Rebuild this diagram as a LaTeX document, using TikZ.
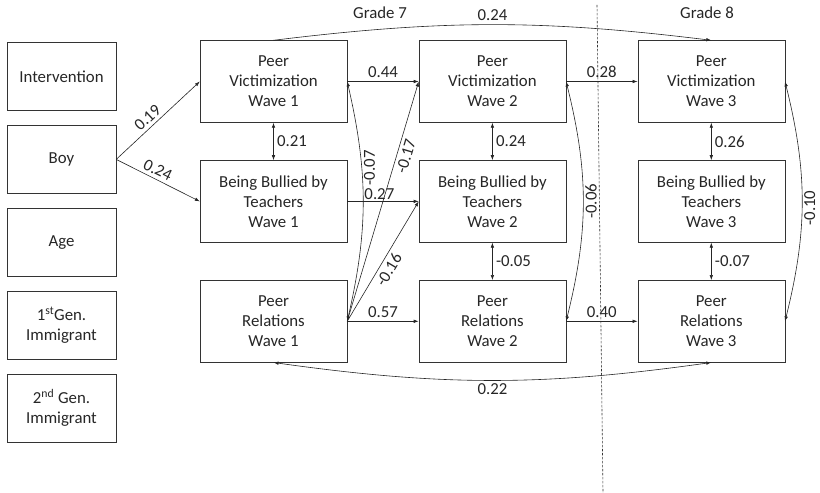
\documentclass[tikz,border=0pt]{standalone}
\usepackage{fontspec}
\setmainfont{Carlito}
\usetikzlibrary{shapes,arrows.meta}
\usetikzlibrary{positioning}

\begin{document}
\begin{tikzpicture}[x=1pt,y=1pt,
font=\fontsize{16.8}{20}\selectfont,text=black!85,
block/.style={rectangle,draw=black!80,align=center,minimum width=147pt,minimum height=82pt,inner sep=0pt,node distance=37.5pt and 71.5pt},
cvar/.style={rectangle,draw=black!80,align=center,minimum width=109pt,minimum height=68pt,inner sep=0pt,node distance=14.5pt},
line/.style={draw=black!85,line width=0.6pt,-{Latex[length=5pt,width=3.5pt]}},
both/.style={draw=black!85,line width=0.6pt,{Latex[length=5pt,width=3.5pt]}-{Latex[length=5pt,width=3.5pt]}},
vlabel/.style={rotate=90,anchor=north,inner sep=2pt}]

\useasboundingbox (0,0) rectangle (820,493);

% covariates
\node [cvar] (int) at (61.5,416.5) {Intervention};
\node [cvar, below=of int] (boy) {Boy};
\node [cvar, below=of boy] (age) {Age};
\node [cvar, below=of age] (gen1) {1\textsuperscript{st}Gen.\\Immigrant};
\node [cvar, below=of gen1] (gen2) {2\textsuperscript{nd} Gen.\\Immigrant};

% waves
\node [block] (pv1) at (273.5,411.5) {Peer\\Victimization\\Wave 1};
\node [block, below=of pv1] (bt1) {Being Bullied by\\Teachers\\Wave 1};
\node [block, below=of bt1] (pr1) {Peer\\Relations\\Wave 1};

\node [block, right=of pv1] (pv2) {Peer\\Victimization\\Wave 2};
\node [block, right=of bt1] (bt2) {Being Bullied by\\Teachers\\Wave 2};
\node [block, right=of pr1] (pr2) {Peer\\Relations\\Wave 2};

\node [block, right=of pv2] (pv3) {Peer\\Victimization\\Wave 3};
\node [block, right=of bt2] (bt3) {Being Bullied by\\Teachers\\Wave 3};
\node [block, right=of pr2] (pr3) {Peer\\Relations\\Wave 3};

\path [line] (boy.east) -- node [sloped,above,pos=0.45] {0.19} (pv1.west);
\path [line] (boy.east) -- node [sloped,above,pos=0.45] {0.24} (bt1.west);

\path [both] (pv1) -- node [right] {0.21} (bt1);
\path [both] (pv2) -- node [right] {0.24} (bt2);
\path [both] (bt2) -- node [right] {-0.05} (pr2);
\path [both] (pv3) -- node [right] {0.26} (bt3);
\path [both] (bt3) -- node [right] {-0.07} (pr3);

\path [line] (pv1) -- node [above] {0.44} (pv2);
\path [line] (bt1) -- node [above,inner sep=1pt,pos=0.45] {0.27} (bt2);
\path [line] (pr1) -- node [above] {0.57} (pr2);
\path [line] (pr1.east) -- node [sloped,below,pos=0.7] {-0.17} (pv2.west);
\path [line] (pr1.east) -- node [sloped,below,pos=0.47] {-0.16} (bt2.west);

\path [line] (pv2) -- node [above] {0.28} (pv3);
\path [line] (pr2) -- node [above] {0.40} (pr3);

\path [both] (pr1.east) to [bend right=13] node [vlabel,pos=0.65] {-0.07} (pv1.east);
\path [both] (pr2.east) to [bend right=14] node [vlabel,pos=0.5] {-0.06} (pv2.east);
\path [both] (pr3.east) to [bend right=14] node [vlabel,pos=0.47] {-0.10} (pv3.east);

\path [line] (pv1.north) to [bend left=7] node [above] {0.24} (pv3.north);
\path [both] (pr1.south) to [bend right=8] node [below] {0.22} (pr3.south);

% grade split
\coordinate (dtop) at (597,488);
\coordinate (dbot) at (603,0);
\draw [black!80, line width=0.6pt, dash pattern=on 2.5pt off 1.5pt] (dtop) -- (dbot);
\node (g7) at (380,480) {Grade 7};
\node (g8) at (707,480) {Grade 8};
\end{tikzpicture}
\end{document}
